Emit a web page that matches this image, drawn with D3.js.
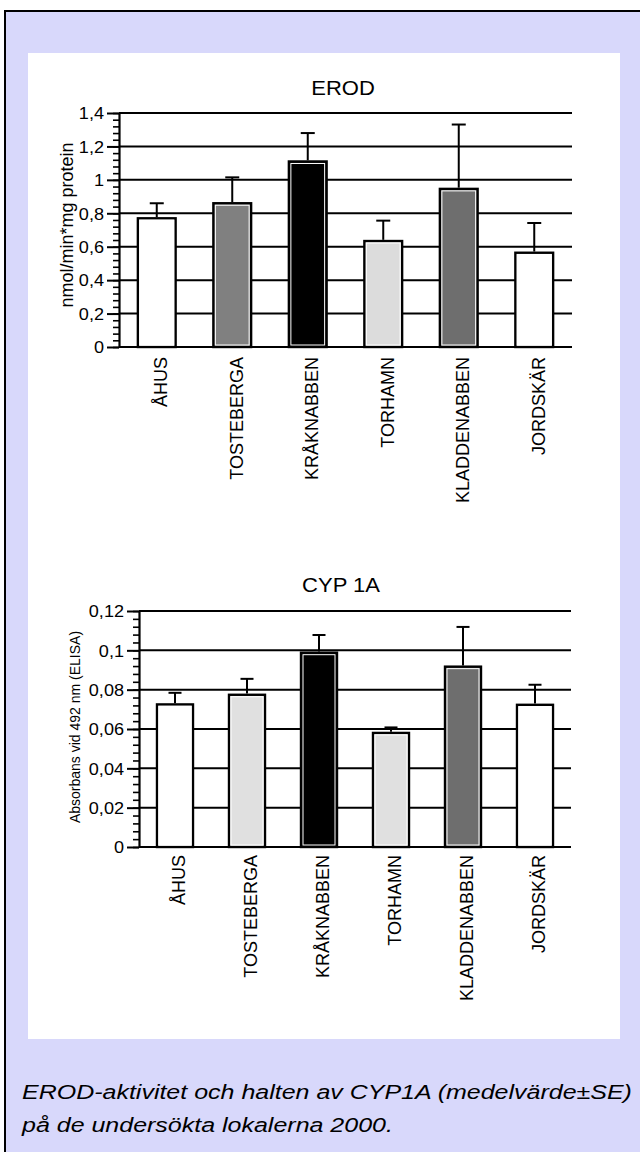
<!DOCTYPE html>
<html>
<head>
<meta charset="utf-8">
<script src="https://cdn.jsdelivr.net/npm/d3@7"></script>
<style>
  body { margin: 0; background: #ffffff; }
  svg { display: block; }
  text { font-family: "Liberation Sans", Arial, sans-serif; fill: #000; }
</style>
</head>
<body>
<script>
// Sampling sites
const sites = ["ÅHUS", "TOSTEBERGA", "KRÅKNABBEN", "TORHAMN", "KLADDENABBEN", "JORDSKÄR"];

// EROD activity, nmol/min*mg protein (mean and standard error)
const erodMean = [0.77, 0.86, 1.11, 0.634, 0.946, 0.564];
const erodSE   = [0.09, 0.155, 0.17, 0.122, 0.385, 0.178];
const erodFill = ["#ffffff", "#808080", "#000000", "#dcdcdc", "#6e6e6e", "#ffffff"];
const erodTicks = [0, 0.2, 0.4, 0.6, 0.8, 1, 1.2, 1.4];
const erodTickLabels = ["0", "0,2", "0,4", "0,6", "0,8", "1", "1,2", "1,4"];

// CYP1A, absorbance at 492 nm (ELISA) (mean and standard error)
const cypMean = [0.0725, 0.0774, 0.0988, 0.058, 0.0917, 0.0723];
const cypSE   = [0.0059, 0.0081, 0.009, 0.0028, 0.0202, 0.0102];
const cypFill = ["#ffffff", "#e0e0e0", "#000000", "#e0e0e0", "#6e6e6e", "#ffffff"];
const cypTicks = [0, 0.02, 0.04, 0.06, 0.08, 0.1, 0.12];
const cypTickLabels = ["0", "0,02", "0,04", "0,06", "0,08", "0,1", "0,12"];

const captionLines = [
  "EROD-aktivitet och halten av CYP1A (medelvärde±SE)",
  "på de undersökta lokalerna 2000."
];

const W = 640, H = 1152;
const svg = d3.select("body").append("svg").attr("width", W).attr("height", H);

// Lavender frame with black left/top border and the white plotting card
svg.append("rect").attr("x", 5).attr("y", 11).attr("width", W + 20).attr("height", H + 20)
  .attr("fill", "#d8d8fb").attr("stroke", "#000").attr("stroke-width", 2);
svg.append("rect").attr("x", 28).attr("y", 53).attr("width", 592).attr("height", 986)
  .attr("fill", "#ffffff");

// Text helper: optional horizontal widening (sx) and rotation
function label(parent, x, y, str, size, opts = {}) {
  const sx = opts.sx || 1;
  const rot = opts.rotate ? ` rotate(${opts.rotate})` : "";
  return parent.append("text")
    .attr("transform", `translate(${x},${y}) scale(${sx},1)${rot}`)
    .attr("text-anchor", opts.anchor || "start")
    .attr("dy", opts.dy || null)
    .attr("font-size", size)
    .attr("font-style", opts.italic ? "italic" : null)
    .text(str);
}

function drawPanel(cfg) {
  const g = svg.append("g");
  const y = d3.scaleLinear().domain([0, cfg.max]).range([cfg.yBottom, cfg.yTop]);
  const x = d3.scaleBand().domain(sites).range([cfg.xLeft, cfg.xRight])
    .paddingInner(0.5).paddingOuter(0.25);

  // Title
  label(g, cfg.titleX, cfg.titleY, cfg.title, 20, { anchor: "middle", sx: 1.1 });

  // Horizontal grid lines at the major ticks
  g.append("g").selectAll("line").data(cfg.ticks).join("line")
    .attr("x1", cfg.xLeft).attr("x2", cfg.xRight)
    .attr("y1", d => y(d)).attr("y2", d => y(d))
    .attr("stroke", "#000").attr("stroke-width", 2);

  // Minor ticks
  const minor = d3.range(0, cfg.max + cfg.minorStep / 2, cfg.minorStep);
  g.append("g").attr("transform", `translate(${cfg.xLeft},0)`)
    .call(d3.axisLeft(y).tickValues(minor).tickSize(6).tickSizeOuter(0).tickFormat(""))
    .call(a => a.select(".domain").remove())
    .call(a => a.selectAll("line").attr("stroke", "#000").attr("stroke-width", 1.6));

  // Major ticks, labels and axis line
  const axis = g.append("g").attr("transform", `translate(${cfg.xLeft},0)`)
    .call(d3.axisLeft(y).tickValues(cfg.ticks).tickSize(12).tickSizeOuter(0)
      .tickFormat((d, i) => cfg.tickLabels[i]));
  axis.attr("font-family", null).attr("font-size", null);
  axis.select(".domain").attr("stroke", "#000").attr("stroke-width", 2.2);
  axis.selectAll(".tick line").attr("stroke", "#000").attr("stroke-width", 2);
  axis.selectAll(".tick text")
    .attr("x", null).attr("dy", null)
    .attr("transform", `translate(-15,5.8) scale(1.13,1)`)
    .attr("font-size", 16).attr("fill", "#000");

  // Y axis title
  label(g, cfg.yTitleX, cfg.yTitleY, cfg.yTitle, cfg.yTitleSize,
    { anchor: "middle", rotate: -90, dy: "0.35em" });

  // Bars
  const bars = g.append("g").selectAll("g").data(sites).join("g");
  bars.append("rect")
    .attr("x", d => x(d)).attr("width", x.bandwidth())
    .attr("y", (d, i) => y(cfg.mean[i]))
    .attr("height", (d, i) => cfg.yBottom - y(cfg.mean[i]))
    .attr("fill", (d, i) => cfg.fill[i])
    .attr("stroke", "#000").attr("stroke-width", 2.4);
  bars.append("rect")
    .attr("x", d => x(d) + 2).attr("width", x.bandwidth() - 4)
    .attr("y", (d, i) => y(cfg.mean[i]) + 2)
    .attr("height", (d, i) => Math.max(0, cfg.yBottom - y(cfg.mean[i]) - 4))
    .attr("fill", "none")
    .attr("stroke", "#fff").attr("stroke-width", 1);

  // Error bars (upper half)
  const cx = d => x(d) + x.bandwidth() / 2;
  bars.append("line")
    .attr("x1", cx).attr("x2", cx)
    .attr("y1", (d, i) => y(cfg.mean[i]) - 1.2)
    .attr("y2", (d, i) => y(cfg.mean[i] + cfg.se[i]))
    .attr("stroke", "#000").attr("stroke-width", 2);
  bars.append("line")
    .attr("x1", d => cx(d) - cfg.cap).attr("x2", d => cx(d) + cfg.cap)
    .attr("y1", (d, i) => y(cfg.mean[i] + cfg.se[i]))
    .attr("y2", (d, i) => y(cfg.mean[i] + cfg.se[i]))
    .attr("stroke", "#000").attr("stroke-width", 2);

  // Baseline redrawn on top of the bars
  g.append("line").attr("x1", cfg.xLeft).attr("x2", cfg.xRight)
    .attr("y1", cfg.yBottom).attr("y2", cfg.yBottom)
    .attr("stroke", "#000").attr("stroke-width", 2);

  // Category labels, reading bottom to top
  sites.forEach(s => {
    label(g, cx(s) + 4, cfg.yBottom + cfg.labelGap, s, 18,
      { anchor: "end", rotate: -90, dy: "0.35em" });
  });
}

drawPanel({
  title: "EROD", titleX: 343, titleY: 95,
  mean: erodMean, se: erodSE, fill: erodFill,
  ticks: erodTicks, tickLabels: erodTickLabels, max: 1.4, minorStep: 0.04,
  xLeft: 119, xRight: 572, yTop: 113, yBottom: 347,
  yTitle: "nmol/min*mg protein", yTitleX: 67, yTitleY: 225, yTitleSize: 18,
  cap: 7, labelGap: 10
});

drawPanel({
  title: "CYP 1A", titleX: 341, titleY: 592,
  mean: cypMean, se: cypSE, fill: cypFill,
  ticks: cypTicks, tickLabels: cypTickLabels, max: 0.12, minorStep: 0.004,
  xLeft: 139, xRight: 571, yTop: 611, yBottom: 847,
  yTitle: "Absorbans vid 492 nm (ELISA)", yTitleX: 75, yTitleY: 727, yTitleSize: 14,
  cap: 6.5, labelGap: 8
});

// Caption
captionLines.forEach((line, i) => {
  label(svg, 22, 1099 + i * 33, line, 20, { italic: true, sx: 1.25 });
});
</script>
</body>
</html>
